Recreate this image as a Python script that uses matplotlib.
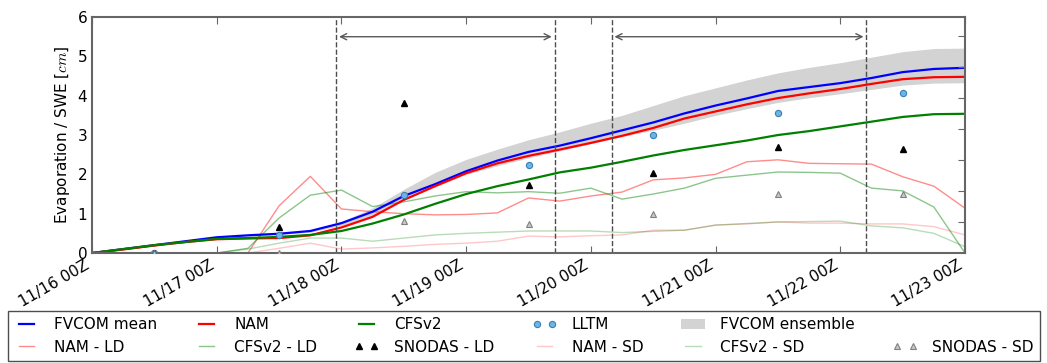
import numpy as np
import pandas as pd
import matplotlib
matplotlib.use('Agg')
import matplotlib.pyplot as plt
import matplotlib.dates as mdates
import matplotlib.patches as mpatches

plt.rcParams['mathtext.fontset'] = 'cm'
plt.rcParams['font.size'] = 11

# 6-hourly time axis, 11/16 00Z -> 11/23 00Z
times = pd.date_range('2014-11-16 00:00', '2014-11-23 00:00', freq='6h')
obs_times = pd.date_range('2014-11-16 12:00', periods=7, freq='D')
nan = np.nan

fvcom_mean = [0, .1, .2, .3, .4, .45, .49, .56, .76, 1.05, 1.45, 1.75, 2.08, 2.35, 2.57,
              2.73, 2.92, 3.12, 3.32, 3.55, 3.75, 3.93, 4.12, 4.22, 4.32, 4.45, 4.6, 4.68, 4.71]
nam = [0, .09, .19, .28, .35, .37, .38, .45, .65, .92, 1.35, 1.7, 2.03, 2.28, 2.47,
       2.63, 2.8, 2.98, 3.18, 3.42, 3.6, 3.78, 3.94, 4.06, 4.17, 4.3, 4.42, 4.47, 4.48]
cfsv2 = [0, .1, .2, .28, .36, .38, .41, .46, .56, .75, .98, 1.25, 1.5, 1.7, 1.87,
         2.05, 2.17, 2.32, 2.48, 2.62, 2.74, 2.86, 3.0, 3.1, 3.22, 3.34, 3.46, 3.53, 3.54]
ens_hi = [0, .11, .21, .31, .41, .46, .5, .58, .8, 1.15, 1.62, 2.05, 2.38, 2.64, 2.88,
          3.08, 3.3, 3.5, 3.75, 4.0, 4.2, 4.4, 4.58, 4.72, 4.84, 4.98, 5.12, 5.2, 5.21]
ens_lo = [0, .09, .19, .29, .38, .43, .47, .53, .7, .95, 1.35, 1.68, 2.0, 2.22, 2.42,
          2.6, 2.78, 2.96, 3.12, 3.3, 3.5, 3.67, 3.83, 3.95, 4.05, 4.16, 4.27, 4.32, 4.33]

nam_ld = [nan, nan, nan, nan, nan, 0, 1.2, 1.95, 1.12, 1.05, 1.0, .97, .98, 1.02, 1.4,
          1.32, 1.45, 1.55, 1.86, 1.91, 2.0, 2.32, 2.37, 2.28, 2.27, 2.26, 1.94, 1.7, 1.14]
cfsv2_ld = [nan, nan, nan, nan, 0, .12, .89, 1.47, 1.6, 1.18, 1.3, 1.45, 1.56, 1.53, 1.56,
            1.52, 1.65, 1.37, 1.5, 1.65, 1.9, 1.98, 2.06, 2.05, 2.03, 1.65, 1.58, 1.17, 0]
nam_sd = [nan, nan, nan, nan, nan, 0, .12, .25, .1, .13, .17, .22, .25, .3, .43,
          .41, .44, .46, .58, .58, .71, .74, .79, .76, .76, .74, .74, .67, .46]
cfsv2_sd = [nan, nan, nan, nan, 0, .1, .25, .38, .38, .3, .38, .46, .5, .53, .56,
            .56, .56, .52, .55, .58, .71, .75, .79, .8, .81, .69, .64, .5, .16]

lltm = [0, .45, 1.47, 2.25, 3.0, 3.57, 4.07]
snodas_ld = [0, .65, 3.82, 1.73, 2.03, 2.69, 2.64]
snodas_sd = [0, 0, .81, .74, .99, 1.5, 1.5]

# forecast windows (dashed lines) and arrows
windows = [(pd.Timestamp('2014-11-17 23:00'), pd.Timestamp('2014-11-19 17:00')),
           (pd.Timestamp('2014-11-20 04:00'), pd.Timestamp('2014-11-22 05:00'))]

fig = plt.figure(figsize=(10.47, 3.63), dpi=100)
ax = fig.add_axes([0.0879, 0.303, 0.8338, 0.650])

ens = ax.fill_between(times, ens_lo, ens_hi, color='#d3d3d3', lw=0, label='FVCOM ensemble')
l_nam_ld, = ax.plot(times, nam_ld, color='r', alpha=0.45, lw=1, label='NAM - LD')
l_cfs_ld, = ax.plot(times, cfsv2_ld, color='g', alpha=0.45, lw=1, label='CFSv2 - LD')
l_nam_sd, = ax.plot(times, nam_sd, color='r', alpha=0.22, lw=1, label='NAM - SD')
l_cfs_sd, = ax.plot(times, cfsv2_sd, color='g', alpha=0.28, lw=1, label='CFSv2 - SD')
l_fv, = ax.plot(times, fvcom_mean, color='b', lw=1.6, label='FVCOM mean')
l_nam, = ax.plot(times, nam, color='r', lw=1.6, label='NAM')
l_cfs, = ax.plot(times, cfsv2, color='g', lw=1.6, label='CFSv2')
l_lltm, = ax.plot(obs_times, lltm, 'o', ms=4.5, mfc='#6cb6e6', mec='#3a7fb5', mew=0.8,
                  label='LLTM', zorder=5)
l_sld, = ax.plot(obs_times, snodas_ld, '^', ms=4.5, color='k', label='SNODAS - LD', zorder=5)
l_ssd, = ax.plot(obs_times, snodas_sd, '^', ms=4.5, mfc='#c8c8c8', mec='#808080', mew=0.8,
                 label='SNODAS - SD', zorder=5)

for t0, t1 in windows:
    ax.axvline(t0, color='0.3', ls='--', lw=1)
    ax.axvline(t1, color='0.3', ls='--', lw=1)
    ax.annotate('', xy=(t1, 5.5), xytext=(t0, 5.5),
                arrowprops=dict(arrowstyle='<->', color='0.35', lw=1))

ax.set_xlim(times[0], times[-1])
ax.set_ylim(0, 6)
ax.set_ylabel('Evaporation / SWE [$cm$]')
ax.xaxis.set_major_locator(mdates.DayLocator())
ax.xaxis.set_major_formatter(mdates.DateFormatter('%m/%d %HZ'))
plt.setp(ax.get_xticklabels(), rotation=30, ha='right')
ax.tick_params(axis='x', direction='in', top=True, length=5, color='0.4')
ax.tick_params(axis='y', direction='in', length=0, right=False)
for s in ax.spines.values():
    s.set_color('0.4')
    s.set_linewidth(1.5)

ax2 = ax.twinx()
ax2.set_ylim(0, 7.6)
ax2.set_yticks(range(1, 8))
ax2.tick_params(axis='y', direction='in', length=5, labelright=False, color='0.4')
for s in ax2.spines.values():
    s.set_visible(False)

blank = mpatches.Rectangle((0, 0), 1, 1, visible=False)
handles = [l_fv, l_nam_ld, l_nam, l_cfs_ld, l_cfs, l_sld, l_lltm, l_nam_sd, ens, l_cfs_sd, blank, l_ssd]
labels = ['FVCOM mean', 'NAM - LD', 'NAM', 'CFSv2 - LD', 'CFSv2', 'SNODAS - LD',
          'LLTM', 'NAM - SD', 'FVCOM ensemble', 'CFSv2 - SD', '', 'SNODAS - SD']
leg = fig.legend(handles, labels, loc='upper left', bbox_to_anchor=(0.0076, 0.0, 0.9857, 0.143),
                 mode='expand', ncol=6, fontsize=11, numpoints=2, handlelength=1.6,
                 handletextpad=1.0, fancybox=False, borderaxespad=0, framealpha=1)
leg.get_frame().set_edgecolor('0.3')

fig.savefig('out.png', dpi=100)
